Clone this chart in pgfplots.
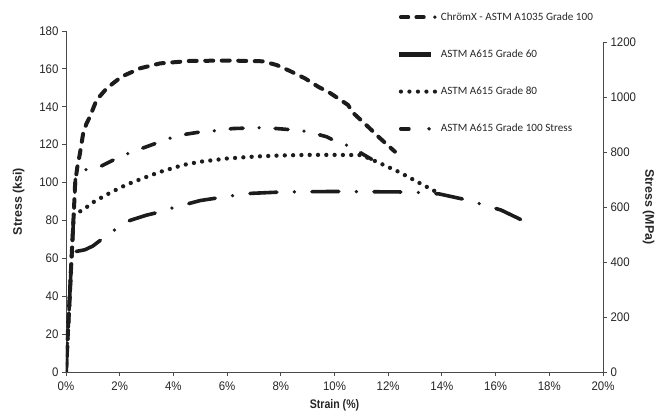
\documentclass[border=0pt]{standalone}
\usepackage{pgfplots}
\pgfplotsset{compat=1.18}
\usepackage{fontspec}
\setmainfont{Liberation Sans}
\newfontfamily\legendfont{Carlito}
\newfontfamily\tickfont[FakeStretch=0.92]{Liberation Sans}
\newfontfamily\xlabfont[FakeStretch=0.85]{Liberation Sans}
\definecolor{curve}{HTML}{1C1C1C}
\definecolor{axcol}{HTML}{4A4A4A}

\pgfplotstableread{
x y
0 0
0.2 58
0.3 87
0.34 99.6
0.42 108
0.52 115.4
0.64 126
0.76 131
0.89 134.8
1.14 143.6
1.52 149.8
2.07 155.9
2.76 160.3
3.5 162.9
4.62 164.2
6.1 164.4
7.35 164
7.85 162
8.34 158.9
8.9 155
9.39 150.6
9.83 147.3
10.5 141
10.7 136.7
11.3 128.8
11.57 125
12.25 116.3
}\chromx

\pgfplotstableread{
x y
0 0
0.36 104
0.5 105.5
0.71 106.7
1.27 108.4
1.89 112.8
2.32 115.4
2.88 118.3
3.5 121.5
3.95 123.8
4.5 125.6
5 126.7
5.6 127.4
6.2 128.5
6.85 128.8
7.3 129
7.85 128.5
8.45 127.8
9 126.9
9.7 124.2
10.1 121.4
10.6 119
11.1 114.6
11.6 110.5
}\gradehundred

\pgfplotstableread{
x y
0 0
0.29 84
0.58 85
1 89.5
1.5 93.5
2 97.2
2.38 99.6
3 103
3.5 105.6
4.37 109.3
5 111
6 112.7
7 113.7
8 114.3
9 114.6
10 114.6
11 114.5
11.57 111
12.4 105.6
13.2 99.5
13.8 95
}\gradeeighty

\pgfplotstableread{
x y
0 0
0.22 63
0.33 63.5
0.7 64.5
1.0 66.5
1.38 70.6
1.86 75.5
2.38 80
3 82.8
3.5 84.5
4.05 87
4.6 89
5 90.5
5.6 91.8
6.3 93.3
6.9 94.3
8 95
10 95.3
12.8 95
13.3 94.6
13.9 94
15 90.6
15.6 88
16.2 85.5
17.2 78.7
}\gradesixty

\begin{document}
\begin{tikzpicture}
\begin{axis}[
  at={(0,0)}, anchor=south west,
  scale only axis,
  width=537bp, height=341bp,
  xmin=0, xmax=20, ymin=0, ymax=180,
  axis x line*=bottom, axis y line*=left,
  axis line style={draw=axcol, line width=0.9bp},
  every tick/.style={draw=axcol, line width=0.9bp},
  tick align=outside, major tick length=4bp,
  xtick={0,2,...,20},
  xticklabels={0\%,2\%,4\%,6\%,8\%,10\%,12\%,14\%,16\%,18\%,20\%},
  ytick={0,20,...,180},
  /pgf/number format/assume math mode=true,
  /pgf/number format/1000 sep={},
  scaled y ticks=false,
  tick label style={font=\tickfont\fontsize{12.5}{12.5}\selectfont, text=black!85},
  xticklabel style={yshift=-2bp},
  xlabel={\xlabfont\bfseries Strain (\%)},
  ylabel={\bfseries Stress (ksi)},
  label style={font=\fontsize{12.5}{12.5}\selectfont, text=black!85},
  xlabel style={yshift=-2bp},
  ylabel style={yshift=8bp},
  legend style={draw=none, fill=none, at={(0.6158,1.060)}, anchor=north west,
    font=\legendfont\fontsize{11.2}{11.2}\selectfont, text=black!85,
    row sep=24bp, inner sep=0bp, outer sep=0bp,
    /tikz/every even column/.append style={column sep=3bp}},
  legend cell align=left,
  every axis plot/.append style={curve, line cap=round, line join=round},
]
\addplot[line width=4bp, dash pattern=on 8bp off 8.5bp, forget plot] table[x=x,y=y] {\chromx};
\addlegendimage{legend image code/.code={\path[draw=none, fill=none] (0bp,-2bp) rectangle (38bp,2bp); \draw[curve, line width=3.8bp, line cap=round, dash pattern=on 7.5bp off 8bp on 7.5bp off 11bp on 0bp off 20bp] (1.9bp,0bp) -- (38bp,0bp);}}
\addlegendentry{ChrömX - ASTM A1035 Grade 100}
\addplot[line width=3.6bp, dash pattern=on 27bp off 17.5bp on 0bp off 17.5bp, forget plot] table[x=x,y=y] {\gradesixty};
\addlegendimage{legend image code/.code={\path[draw=none, fill=none] (0bp,-2bp) rectangle (38bp,2bp); \draw[curve, solid, line width=4.5bp, line cap=butt] (0bp,0bp) -- (31.6bp,0bp);}}
\addlegendentry{ASTM A615 Grade 60}
\addplot[line width=4.3bp, dash pattern=on 0bp off 8.3bp, forget plot] table[x=x,y=y] {\gradeeighty};
\addlegendimage{legend image code/.code={\path[draw=none, fill=none] (0bp,-2bp) rectangle (38bp,2bp); \draw[curve, line width=4.2bp, line cap=round, dash pattern=on 0bp off 8.5bp] (2bp,0bp) -- (37bp,0bp);}}
\addlegendentry{ASTM A615 Grade 80}
\addplot[line width=3.6bp, dash pattern=on 13bp off 16bp on 0bp off 16bp, forget plot] table[x=x,y=y] {\gradehundred};
\addlegendimage{legend image code/.code={\path[draw=none, fill=none] (0bp,-2bp) rectangle (38bp,2bp); \draw[curve, line width=3.8bp, line cap=round, dash pattern=on 8bp off 20.2bp on 0bp off 20bp] (1.9bp,0bp) -- (36bp,0bp);}}
\addlegendentry{ASTM A615 Grade 100 Stress}
\end{axis}
\begin{axis}[
  at={(0,0)}, anchor=south west,
  scale only axis,
  width=537bp, height=330bp,
  xmin=0, xmax=20, ymin=0, ymax=1200,
  axis x line=none, axis y line*=right,
  axis line style={draw=axcol, line width=0.9bp},
  every tick/.style={draw=axcol, line width=0.9bp},
  tick align=outside, major tick length=4bp,
  ytick={0,200,...,1200},
  /pgf/number format/assume math mode=true,
  /pgf/number format/1000 sep={},
  scaled y ticks=false,
  tick label style={font=\tickfont\fontsize{12.5}{12.5}\selectfont, text=black!85},
  ylabel={\bfseries Stress (MPa)},
  ylabel style={font=\fontsize{12.5}{12.5}\selectfont, text=black!85, rotate=180},
]
\end{axis}
\path[use as bounding box] (-66bp,-45bp) rectangle (593bp,372bp);
\end{tikzpicture}
\end{document}
